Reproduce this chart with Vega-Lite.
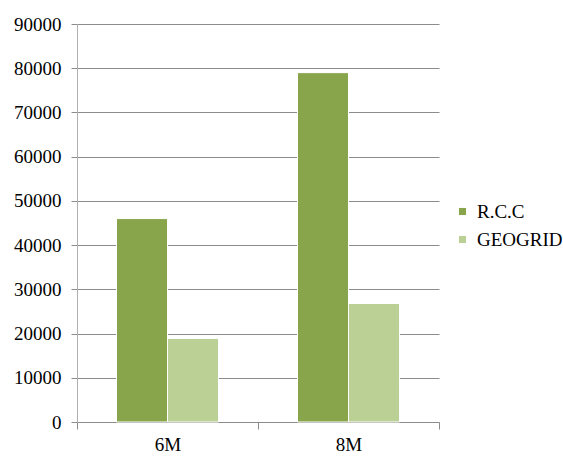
{
  "$schema": "https://vega.github.io/schema/vega-lite/v6.json",
  "width": 362,
  "height": 398,
  "autosize": {"type": "none"},
  "padding": {"left": 77, "top": 24, "right": 124, "bottom": 37},
  "background": "white",
  "config": {
    "view": {"stroke": null},
    "font": "Liberation Serif",
    "axis": {"labelFont": "Liberation Serif", "labelColor": "#000", "labelFontSize": 19},
    "legend": {"labelFont": "Liberation Serif", "labelColor": "#000", "labelFontSize": 19}
  },
  "data": {
    "values": [
      {"size": "6M", "type": "R.C.C", "value": 46000},
      {"size": "6M", "type": "GEOGRID", "value": 18900},
      {"size": "8M", "type": "R.C.C", "value": 79000},
      {"size": "8M", "type": "GEOGRID", "value": 26800}
    ]
  },
  "mark": {"type": "bar", "stroke": "white", "strokeWidth": 1},
  "encoding": {
    "x": {
      "field": "size", "type": "nominal", "title": null,
      "scale": {"paddingInner": 0, "paddingOuter": 0},
      "axis": {"labelAngle": 0, "tickBand": "extent", "tickSize": 7, "tickColor": "#8c8c8c", "domainColor": "#8c8c8c", "labelPadding": 6}
    },
    "xOffset": {
      "field": "type", "type": "nominal", "sort": ["R.C.C", "GEOGRID"],
      "scale": {"paddingInner": 0, "paddingOuter": 0.775}
    },
    "y": {
      "field": "value", "type": "quantitative", "title": null,
      "scale": {"domain": [0, 90000], "nice": false},
      "axis": {"values": [0,10000,20000,30000,40000,50000,60000,70000,80000,90000], "format": "d", "gridColor": "#8c8c8c", "tickColor": "#8c8c8c", "domainColor": "#b0b0b0", "tickSize": 6, "labelPadding": 10}
    },
    "color": {
      "field": "type", "type": "nominal", "sort": ["R.C.C", "GEOGRID"],
      "scale": {"domain": ["R.C.C", "GEOGRID"], "range": ["#88a54b", "#bbd094"]},
      "legend": {"title": null, "orient": "none", "legendX": 376, "legendY": 178, "symbolType": "square", "symbolSize": 50, "symbolStrokeWidth": 0, "rowPadding": 8, "labelOffset": 5}
    }
  }
}
